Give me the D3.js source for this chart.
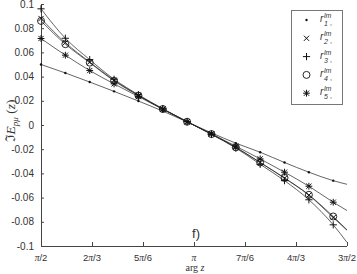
<!DOCTYPE html>
<html>
<head>
<meta charset="utf-8">
<script src="https://cdn.jsdelivr.net/npm/d3@7"></script>
<style>
  body { margin: 0; background: #fff; }
  svg { display: block; }
  text { font-family: "Liberation Sans", Arial, sans-serif; fill: #333; }
</style>
</head>
<body>
<svg width="357" height="274"></svg>
<script>
// arg z values (last one is the end of the line, no marker there)
var theta = [1.571, 1.821, 2.071, 2.321, 2.571, 2.821, 3.071, 3.321, 3.571, 3.821, 4.071, 4.321, 4.571, 4.712];

var r1 = [0.050, 0.043, 0.0355, 0.0278, 0.0198, 0.0115, 0.0025, -0.0065, -0.015, -0.0225, -0.031, -0.039, -0.046, -0.049];
var r2 = [0.088, 0.068, 0.052, 0.037, 0.0245, 0.0132, 0.0027, -0.0075, -0.0185, -0.031, -0.044, -0.058, -0.0765, -0.087];
var r3 = [0.096, 0.0717, 0.054, 0.0378, 0.025, 0.0135, 0.0028, -0.0078, -0.019, -0.0325, -0.046, -0.0618, -0.0825, -0.097];
var r4 = [0.086, 0.0668, 0.0515, 0.0365, 0.0243, 0.0132, 0.0027, -0.0075, -0.0185, -0.031, -0.0437, -0.0577, -0.0756, -0.0866];
var r5 = [0.0715, 0.0577, 0.045, 0.034, 0.0235, 0.013, 0.0027, -0.0073, -0.0175, -0.028, -0.039, -0.0506, -0.0638, -0.0707];

var seriesNames = ["1", "2", "3", "4", "5"];
var markers = ["dot", "cross", "plus", "circle", "star"];

var xTicks = [Math.PI/2, 2*Math.PI/3, 5*Math.PI/6, Math.PI, 7*Math.PI/6, 4*Math.PI/3, 3*Math.PI/2];
var xTickLabels = [["", "/2"], ["2", "/3"], ["5", "/6"], ["", ""], ["7", "/6"], ["4", "/3"], ["3", "/2"]];
var yTicks = [-0.1, -0.08, -0.06, -0.04, -0.02, 0, 0.02, 0.04, 0.06, 0.08, 0.1];

var svg = d3.select("svg");

var x = d3.scaleLinear().domain([Math.PI/2, 3*Math.PI/2]).range([41, 347]);
var y = d3.scaleLinear().domain([-0.1, 0.1]).range([246, 4]);

// axes
var xAxis = d3.axisBottom(x).tickValues(xTicks).tickSize(-4).tickFormat("");
var yAxis = d3.axisLeft(y).tickValues(yTicks).tickSize(-3).tickFormat("");

var gx = svg.append("g").attr("transform", "translate(0,246)").call(xAxis);
var gy = svg.append("g").attr("transform", "translate(41,0)").call(yAxis);
gx.select(".domain").attr("d", "M41,0.5H347");
gy.select(".domain").attr("d", "M0.5,4V246");
svg.selectAll(".domain").attr("stroke", "#444");
svg.selectAll(".tick line").attr("stroke", "#444");

// y tick labels
svg.selectAll(".ylab").data(yTicks).enter().append("text")
    .attr("class", "ylab")
    .attr("x", 34)
    .attr("y", function(d) { return y(d) + 3.5; })
    .attr("text-anchor", "end")
    .attr("font-size", 10)
    .text(function(d) { return d === 0 ? "0" : String(+d.toFixed(2)); });

// x tick labels
var xl = svg.selectAll(".xlab").data(xTicks).enter().append("text")
    .attr("class", "xlab")
    .attr("x", function(d) { return x(d); })
    .attr("y", 261)
    .attr("text-anchor", "middle")
    .attr("font-size", 9.5);
xl.append("tspan").text(function(d, i) { return xTickLabels[i][0]; });
xl.append("tspan").attr("font-style", "italic").attr("font-family", "Liberation Serif, serif").text("π");
xl.append("tspan").text(function(d, i) { return xTickLabels[i][1]; });

// axis titles
var xt = svg.append("text").attr("x", 195).attr("y", 271).attr("text-anchor", "middle")
    .attr("font-size", 10).style("font-family", "Liberation Serif, serif");
xt.append("tspan").text("arg ");
xt.append("tspan").attr("font-style", "italic").text("z");

var yt = svg.append("text").attr("transform", "translate(15,121) rotate(-90)")
    .attr("text-anchor", "middle").attr("font-size", 13.5)
    .style("font-family", "Liberation Serif, serif");
yt.append("tspan").text("ℑ");
yt.append("tspan").attr("font-style", "italic").text("E");
yt.append("tspan").attr("font-style", "italic").attr("font-size", 9).attr("dy", 3).text("pμ");
yt.append("tspan").attr("dy", -3).text(" (");
yt.append("tspan").attr("font-style", "italic").text("z");
yt.append("tspan").text(")");

svg.append("text").attr("x", 196).attr("y", 238).attr("text-anchor", "middle")
    .attr("font-size", 13).text("f)");

// lines and markers
var allSeries = [r1, r2, r3, r4, r5];
var line = d3.line()
    .x(function(d, i) { return x(theta[i]); })
    .y(function(d) { return y(d); })
    .curve(d3.curveMonotoneX);

function drawMarker(g, type) {
    if (type === "dot") {
        g.append("circle").attr("r", 1.2).attr("fill", "#111");
    } else if (type === "circle") {
        g.append("circle").attr("r", 3.5).attr("fill", "none").attr("stroke", "#111").attr("stroke-width", 0.9);
    } else {
        var p = "";
        if (type === "cross" || type === "star") p += "M-2.6,-2.6L2.6,2.6M-2.6,2.6L2.6,-2.6";
        if (type === "plus") p += "M-3.6,0H3.6M0,-3.6V3.6";
        if (type === "star") p += "M-3.4,0H3.4M0,-3.4V3.4";
        g.append("path").attr("d", p).attr("stroke", "#111").attr("stroke-width", 1);
    }
}

allSeries.forEach(function(s, si) {
    svg.append("path").datum(s)
        .attr("d", line)
        .attr("fill", "none")
        .attr("stroke", "#222")
        .attr("stroke-width", 0.7);

    svg.selectAll(".m" + si).data(s.slice(0, 13)).enter().append("g")
        .attr("class", "m" + si)
        .attr("transform", function(d, i) { return "translate(" + x(theta[i]) + "," + y(d) + ")"; })
        .each(function() { drawMarker(d3.select(this), markers[si]); });
});

// legend
var leg = svg.append("g");
leg.append("rect").attr("x", 291.5).attr("y", 10.5).attr("width", 51).attr("height", 94)
    .attr("fill", "#fff").attr("stroke", "#777").attr("stroke-width", 1);

seriesNames.forEach(function(n, i) {
    var ry = 20 + i * 18.3;
    var mg = leg.append("g").attr("transform", "translate(306.5," + ry + ")");
    drawMarker(mg, markers[i]);
    var t = leg.append("text").attr("x", 320).attr("y", ry + 2).attr("font-size", 10)
        .attr("font-style", "italic").attr("fill", "#666");
    t.append("tspan").text("r");
    leg.append("text").attr("x", 324).attr("y", ry - 2).attr("font-size", 7)
        .attr("font-style", "italic").attr("fill", "#666").text("lm");
    leg.append("text").attr("x", 324).attr("y", ry + 6).attr("font-size", 7)
        .attr("font-style", "italic").attr("fill", "#666").text(n);
    leg.append("text").attr("x", 330).attr("y", ry + 5).attr("font-size", 7)
        .attr("fill", "#666").text(",");
});
</script>
</body>
</html>
